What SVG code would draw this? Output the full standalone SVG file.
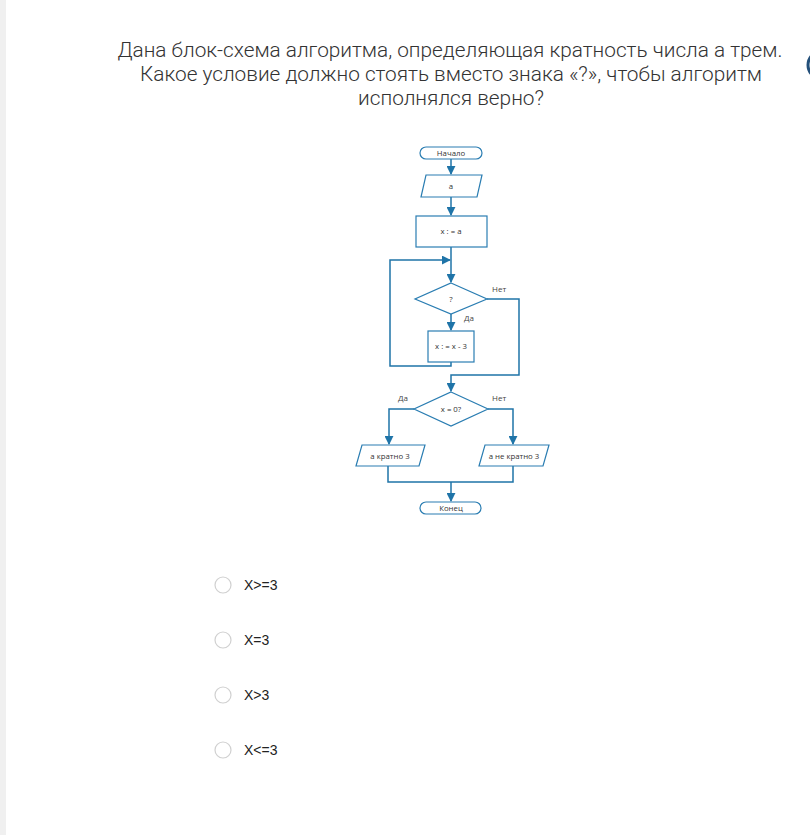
<svg xmlns="http://www.w3.org/2000/svg" width="810" height="835" viewBox="0 0 810 835">
<defs>
<marker id="ah" viewBox="0 0 10 10" refX="9" refY="5" markerWidth="9" markerHeight="9" markerUnits="userSpaceOnUse" orient="auto">
<path d="M0,0 L10,5 L0,10 Z" fill="#1f74a8"/>
</marker>
<style>
.s{fill:#fff;stroke:#2a7db2;stroke-width:1.2}
.c{fill:none;stroke:#1f74a8;stroke-width:1.5}
.t{font-family:"Open Sans","Liberation Sans",sans-serif;font-size:7.8px;fill:#333;text-anchor:middle}
.l{font-family:"Open Sans","Liberation Sans",sans-serif;font-size:8px;fill:#444}
.q{font-family:Roboto,"Liberation Sans",sans-serif;font-weight:300;font-size:21px;fill:#333;text-anchor:middle}
.o{font-family:"Liberation Sans",Arial,sans-serif;font-size:14px;fill:#222}
.r{fill:#fff;stroke:#d0d0d0;stroke-width:1.2}
</style>
</defs>
<rect width="810" height="835" fill="#fff"/>
<rect x="0" y="0" width="6" height="835" fill="#f0f0f0"/>
<circle cx="822" cy="65" r="14" fill="none" stroke="#24507a" stroke-width="3"/>
<g id="question">
<text class="q" x="450" y="57" textLength="665" lengthAdjust="spacingAndGlyphs">Дана блок-схема алгоритма, определяющая кратность числа а трем.</text>
<text class="q" x="451" y="81" textLength="622" lengthAdjust="spacingAndGlyphs">Какое условие должно стоять вместо знака «?», чтобы алгоритм</text>
<text class="q" x="451" y="105" textLength="186" lengthAdjust="spacingAndGlyphs">исполнялся верно?</text>
</g>
<g id="connectors">
<path class="c" d="M451,159 V174" marker-end="url(#ah)"/>
<path class="c" d="M451,197 V215" marker-end="url(#ah)"/>
<path class="c" d="M451,247 V282" marker-end="url(#ah)"/>
<path class="c" d="M451,362 V366 H390 V260 H450" marker-end="url(#ah)"/>
<path class="c" d="M451,314 V330" marker-end="url(#ah)"/>
<path class="c" d="M487,299 H519 V375 H451 V391" marker-end="url(#ah)"/>
<path class="c" d="M414,409 H389 V444" marker-end="url(#ah)"/>
<path class="c" d="M488,409 H513 V444" marker-end="url(#ah)"/>
<path class="c" d="M388,466 V482 H513 V466"/>
<path class="c" d="M451,482 V501" marker-end="url(#ah)"/>
<text class="l" x="492" y="292">Нет</text>
<text class="l" x="464" y="321">Да</text>
<text class="l" x="398" y="401">Да</text>
<text class="l" x="492" y="401">Нет</text>
</g>
<g id="start">
<rect class="s" x="420" y="147" width="62" height="12" rx="6"/>
<text class="t" x="451" y="156">Начало</text>
</g>
<g id="input">
<polygon class="s" points="426,175 482,175 477,197 421,197"/>
<text class="t" x="451" y="188.5">а</text>
</g>
<g id="assign">
<rect class="s" x="416" y="216" width="71" height="31"/>
<text class="t" x="451" y="234">x : = a</text>
</g>
<g id="cond1">
<polygon class="s" points="451,283 487,299 451,314 415,299"/>
<text class="t" x="451" y="301.5">?</text>
</g>
<g id="decr">
<rect class="s" x="428" y="331" width="46" height="31"/>
<text class="t" x="451" y="349">x : = x - 3</text>
</g>
<g id="cond2">
<polygon class="s" points="451,392 488,409 451,426 414,409"/>
<text class="t" x="451" y="412">x = 0?</text>
</g>
<g id="yes">
<polygon class="s" points="362,445 425,445 419,466 356,466"/>
<text class="t" x="390" y="458.5">а кратно 3</text>
</g>
<g id="no">
<polygon class="s" points="485,445 549,445 543,466 479,466"/>
<text class="t" x="514" y="458.5">а не кратно 3</text>
</g>
<g id="end">
<rect class="s" x="420" y="502" width="61" height="12" rx="6"/>
<text class="t" x="451" y="511">Конец</text>
</g>
<g id="options">
<circle class="r" cx="223" cy="585" r="8"/>
<text class="o" x="244" y="590">X&gt;=3</text>
<circle class="r" cx="223" cy="640" r="8"/>
<text class="o" x="244" y="645">X=3</text>
<circle class="r" cx="223" cy="695" r="8"/>
<text class="o" x="244" y="700">X&gt;3</text>
<circle class="r" cx="223" cy="750" r="8"/>
<text class="o" x="244" y="755">X&lt;=3</text>
</g>
</svg>
